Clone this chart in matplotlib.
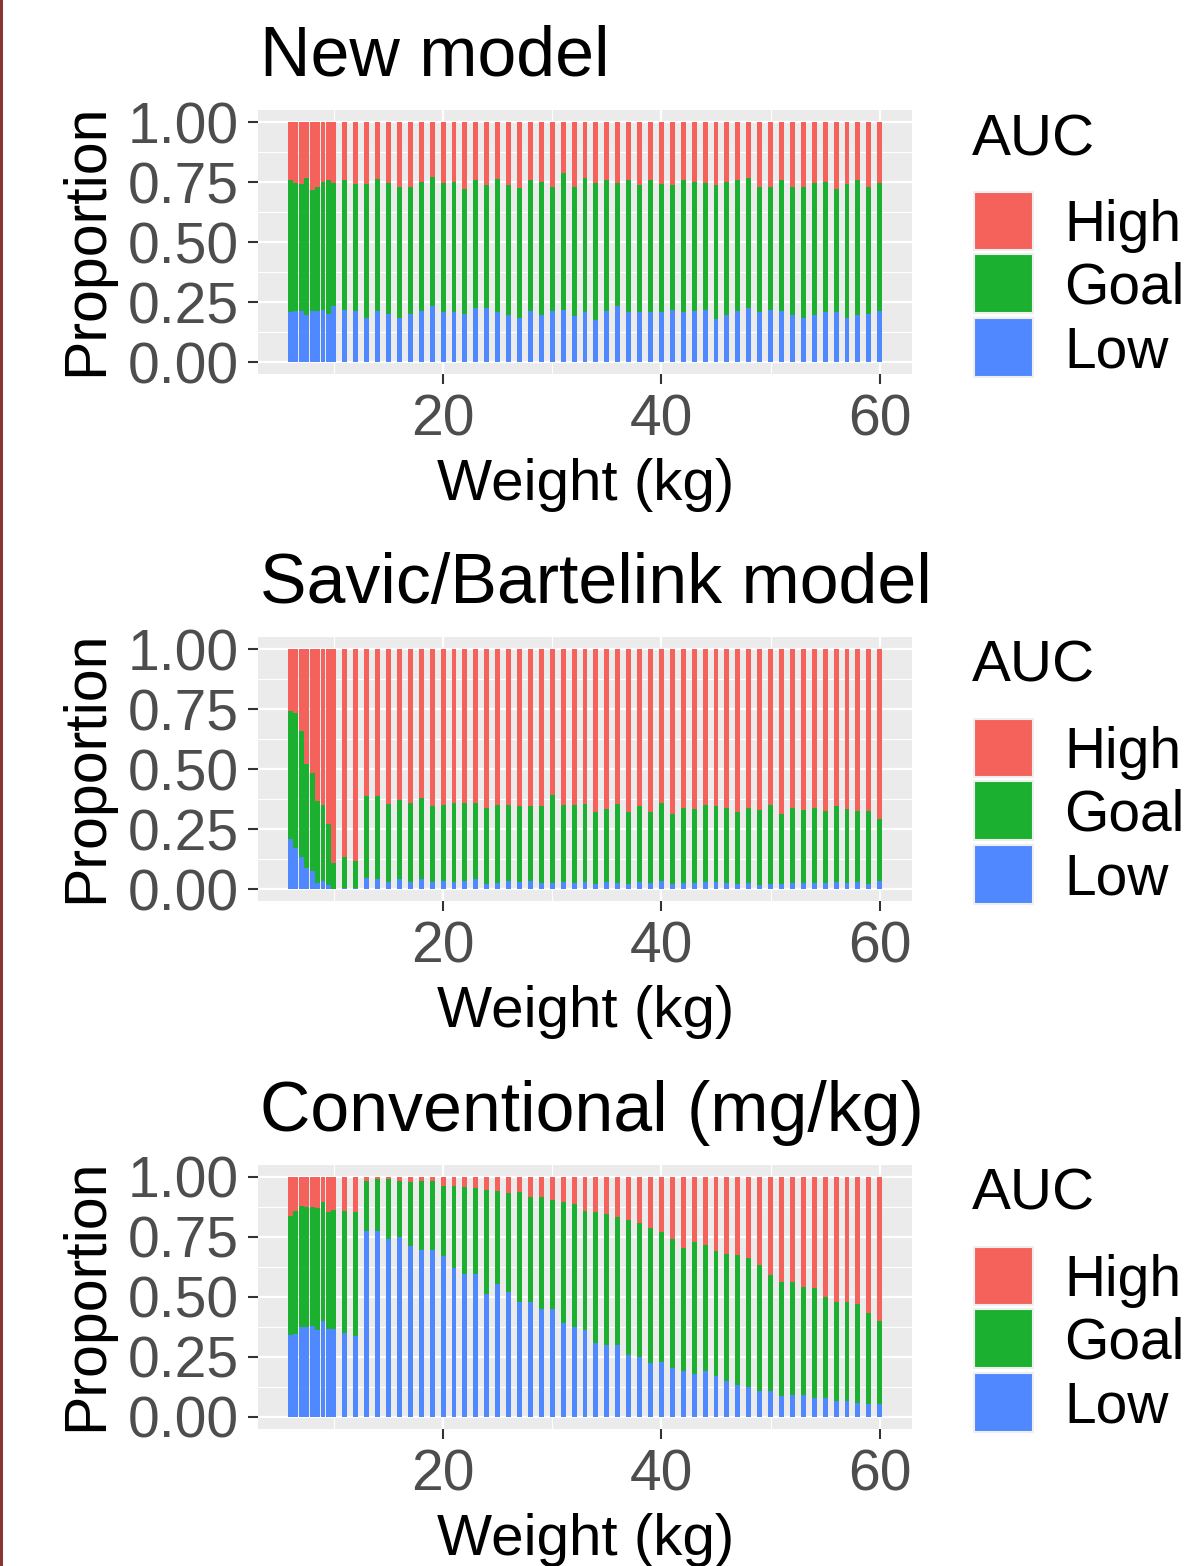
import numpy as np
import matplotlib
matplotlib.use("Agg")
import matplotlib.pyplot as plt
from matplotlib.patches import Rectangle

plt.rcParams["font.family"] = ["Liberation Sans", "DejaVu Sans"]

# Weight bins (kg): half-kg steps up to 10, then every kg
weights = [6, 6.5, 7, 7.5, 8, 8.5, 9, 9.5, 10,
           11, 12, 13, 14, 15, 16, 17, 18, 19, 20,
           21, 22, 23, 24, 25, 26, 27, 28, 29, 30,
           31, 32, 33, 34, 35, 36, 37, 38, 39, 40,
           41, 42, 43, 44, 45, 46, 47, 48, 49, 50,
           51, 52, 53, 54, 55, 56, 57, 58, 59, 60]

categories = ["High", "Goal", "Low"]
colors = {"High": "#F5625C", "Goal": "#1BB02F", "Low": "#5088FF"}
titles = ["New model", "Savic/Bartelink model", "Conventional (mg/kg)"]

# proportion Low, and cumulative Low+Goal (rest is High)
new_low = [0.207, 0.212, 0.212, 0.196, 0.213, 0.213, 0.217, 0.200, 0.232,
           0.217, 0.213, 0.185, 0.213, 0.200, 0.185, 0.200, 0.213, 0.232, 0.207,
           0.207, 0.200, 0.227, 0.227, 0.207, 0.196, 0.185, 0.213, 0.196, 0.213,
           0.217, 0.191, 0.207, 0.177, 0.213, 0.232, 0.207, 0.207, 0.207, 0.207,
           0.217, 0.207, 0.213, 0.217, 0.181, 0.196, 0.213, 0.223, 0.207, 0.217,
           0.213, 0.196, 0.185, 0.196, 0.207, 0.207, 0.185, 0.196, 0.200, 0.213]
new_low_goal = [0.757, 0.747, 0.740, 0.766, 0.715, 0.730, 0.752, 0.757, 0.747,
                0.757, 0.740, 0.740, 0.761, 0.747, 0.730, 0.730, 0.752, 0.772, 0.747,
                0.752, 0.721, 0.757, 0.736, 0.761, 0.736, 0.726, 0.757, 0.752, 0.730,
                0.788, 0.730, 0.766, 0.747, 0.757, 0.747, 0.757, 0.736, 0.757, 0.740,
                0.736, 0.757, 0.752, 0.747, 0.736, 0.752, 0.757, 0.766, 0.730, 0.730,
                0.757, 0.730, 0.730, 0.747, 0.752, 0.721, 0.740, 0.757, 0.730, 0.747]

savic_low = [0.209, 0.171, 0.134, 0.086, 0.077, 0.025, 0.035, 0.015, 0.000,
             0.006, 0.006, 0.046, 0.042, 0.031, 0.042, 0.031, 0.042, 0.031, 0.035,
             0.031, 0.035, 0.042, 0.019, 0.025, 0.035, 0.031, 0.035, 0.025, 0.025,
             0.031, 0.025, 0.031, 0.019, 0.031, 0.025, 0.019, 0.031, 0.025, 0.035,
             0.019, 0.025, 0.025, 0.031, 0.031, 0.025, 0.019, 0.025, 0.015, 0.019,
             0.019, 0.025, 0.025, 0.025, 0.025, 0.031, 0.025, 0.031, 0.019, 0.035]
savic_low_goal = [0.741, 0.735, 0.657, 0.521, 0.485, 0.365, 0.350, 0.270, 0.109,
                  0.134, 0.118, 0.386, 0.386, 0.355, 0.369, 0.359, 0.379, 0.344, 0.350,
                  0.359, 0.359, 0.359, 0.338, 0.350, 0.350, 0.344, 0.344, 0.344, 0.391,
                  0.350, 0.350, 0.355, 0.319, 0.334, 0.355, 0.319, 0.344, 0.319, 0.359,
                  0.313, 0.338, 0.334, 0.350, 0.344, 0.338, 0.319, 0.338, 0.329, 0.350,
                  0.313, 0.338, 0.329, 0.338, 0.323, 0.344, 0.334, 0.323, 0.323, 0.291]

conv_low = [0.341, 0.346, 0.373, 0.373, 0.378, 0.361, 0.398, 0.366, 0.366,
            0.352, 0.337, 0.777, 0.777, 0.741, 0.752, 0.711, 0.695, 0.695, 0.669,
            0.620, 0.596, 0.596, 0.512, 0.554, 0.522, 0.481, 0.481, 0.450, 0.450,
            0.393, 0.377, 0.361, 0.310, 0.299, 0.299, 0.258, 0.252, 0.227, 0.231,
            0.206, 0.190, 0.180, 0.190, 0.169, 0.148, 0.132, 0.127, 0.107, 0.107,
            0.086, 0.090, 0.090, 0.080, 0.080, 0.065, 0.065, 0.060, 0.054, 0.054]
conv_low_goal = [0.839, 0.859, 0.881, 0.875, 0.875, 0.870, 0.896, 0.855, 0.864,
                 0.860, 0.855, 0.985, 0.990, 0.990, 0.985, 0.979, 0.985, 0.985, 0.964,
                 0.964, 0.958, 0.954, 0.947, 0.943, 0.934, 0.938, 0.917, 0.917, 0.906,
                 0.896, 0.886, 0.860, 0.855, 0.845, 0.834, 0.819, 0.809, 0.788, 0.771,
                 0.741, 0.705, 0.731, 0.715, 0.690, 0.679, 0.673, 0.663, 0.633, 0.590,
                 0.564, 0.564, 0.543, 0.537, 0.501, 0.481, 0.481, 0.470, 0.434, 0.398]

lows = [new_low, savic_low, conv_low]
cums = [new_low_goal, savic_low_goal, conv_low_goal]

W, H = 1190, 1566
fig = plt.figure(figsize=(W / 100, H / 100), dpi=100)


def fx(px):
    return px / W


def fy(py):
    # pixel row from the top -> figure fraction
    return 1 - py / H


# thin dark red edge on the left of the screenshot
fig.add_artist(Rectangle((0, 0), fx(3), 1, transform=fig.transFigure,
                         color="#8B3434", lw=0))

panel_rows = [(110, 374), (637, 901), (1165, 1429)]
left, right = 258, 912
key_rows = [(192, 250), (254, 313), (318, 377)]  # legend key tops/bottoms, first panel

for (top, bottom), title, low, cum in zip(panel_rows, titles, lows, cums):
    ax = fig.add_axes([fx(left), fy(bottom), fx(right - left), (bottom - top) / H])
    ax.set_facecolor("#EBEBEB")
    x = np.array(weights)
    low = np.array(low)
    cum = np.array(cum)
    ax.bar(x, low, width=0.45, color=colors["Low"], linewidth=0)
    ax.bar(x, cum - low, bottom=low, width=0.45, color=colors["Goal"], linewidth=0)
    ax.bar(x, 1 - cum, bottom=cum, width=0.45, color=colors["High"], linewidth=0)

    ax.set_xlim(3.05, 62.95)
    ax.set_ylim(-0.05, 1.05)
    ax.set_xticks([20, 40, 60])
    ax.set_xticks([10, 30, 50], minor=True)
    ax.set_yticks([0, 0.25, 0.5, 0.75, 1.0])
    ax.set_yticklabels(["0.00", "0.25", "0.50", "0.75", "1.00"])
    ax.set_yticks([0.125, 0.375, 0.625, 0.875], minor=True)
    ax.grid(which="major", color="white", linewidth=1.6)
    ax.grid(which="minor", color="white", linewidth=0.8)
    ax.set_axisbelow(True)
    for s in ax.spines.values():
        s.set_visible(False)
    ax.tick_params(which="minor", length=0)
    ax.tick_params(which="major", length=7, width=1.5, color="#333333",
                   labelsize=41, labelcolor="#4D4D4D", pad=7)

    fig.text(fx(260), fy(top - 34), title, fontsize=50.3, va="baseline")
    fig.text(fx(87), fy((top + bottom) / 2 - 2), "Proportion", rotation=90,
             ha="center", va="center", fontsize=42.5)
    fig.text(fx(586), fy(bottom + 126), "Weight (kg)", ha="center",
             va="baseline", fontsize=42)

    # legend, drawn by hand to match ggplot key sizes
    off = top - 110
    fig.text(fx(972), fy(155 + off), "AUC", fontsize=42, va="baseline")
    for cat, (k0, k1) in zip(categories, key_rows):
        fig.add_artist(Rectangle((fx(974), fy(k1 + off)), fx(59), (k1 - k0) / H,
                                 transform=fig.transFigure, facecolor=colors[cat],
                                 edgecolor="#EFEFEF", linewidth=1.5))
        fig.text(fx(1064), fy((k0 + k1) / 2 + off + 20), cat, fontsize=41,
                 va="baseline")

fig.savefig("out.png", dpi=100)
